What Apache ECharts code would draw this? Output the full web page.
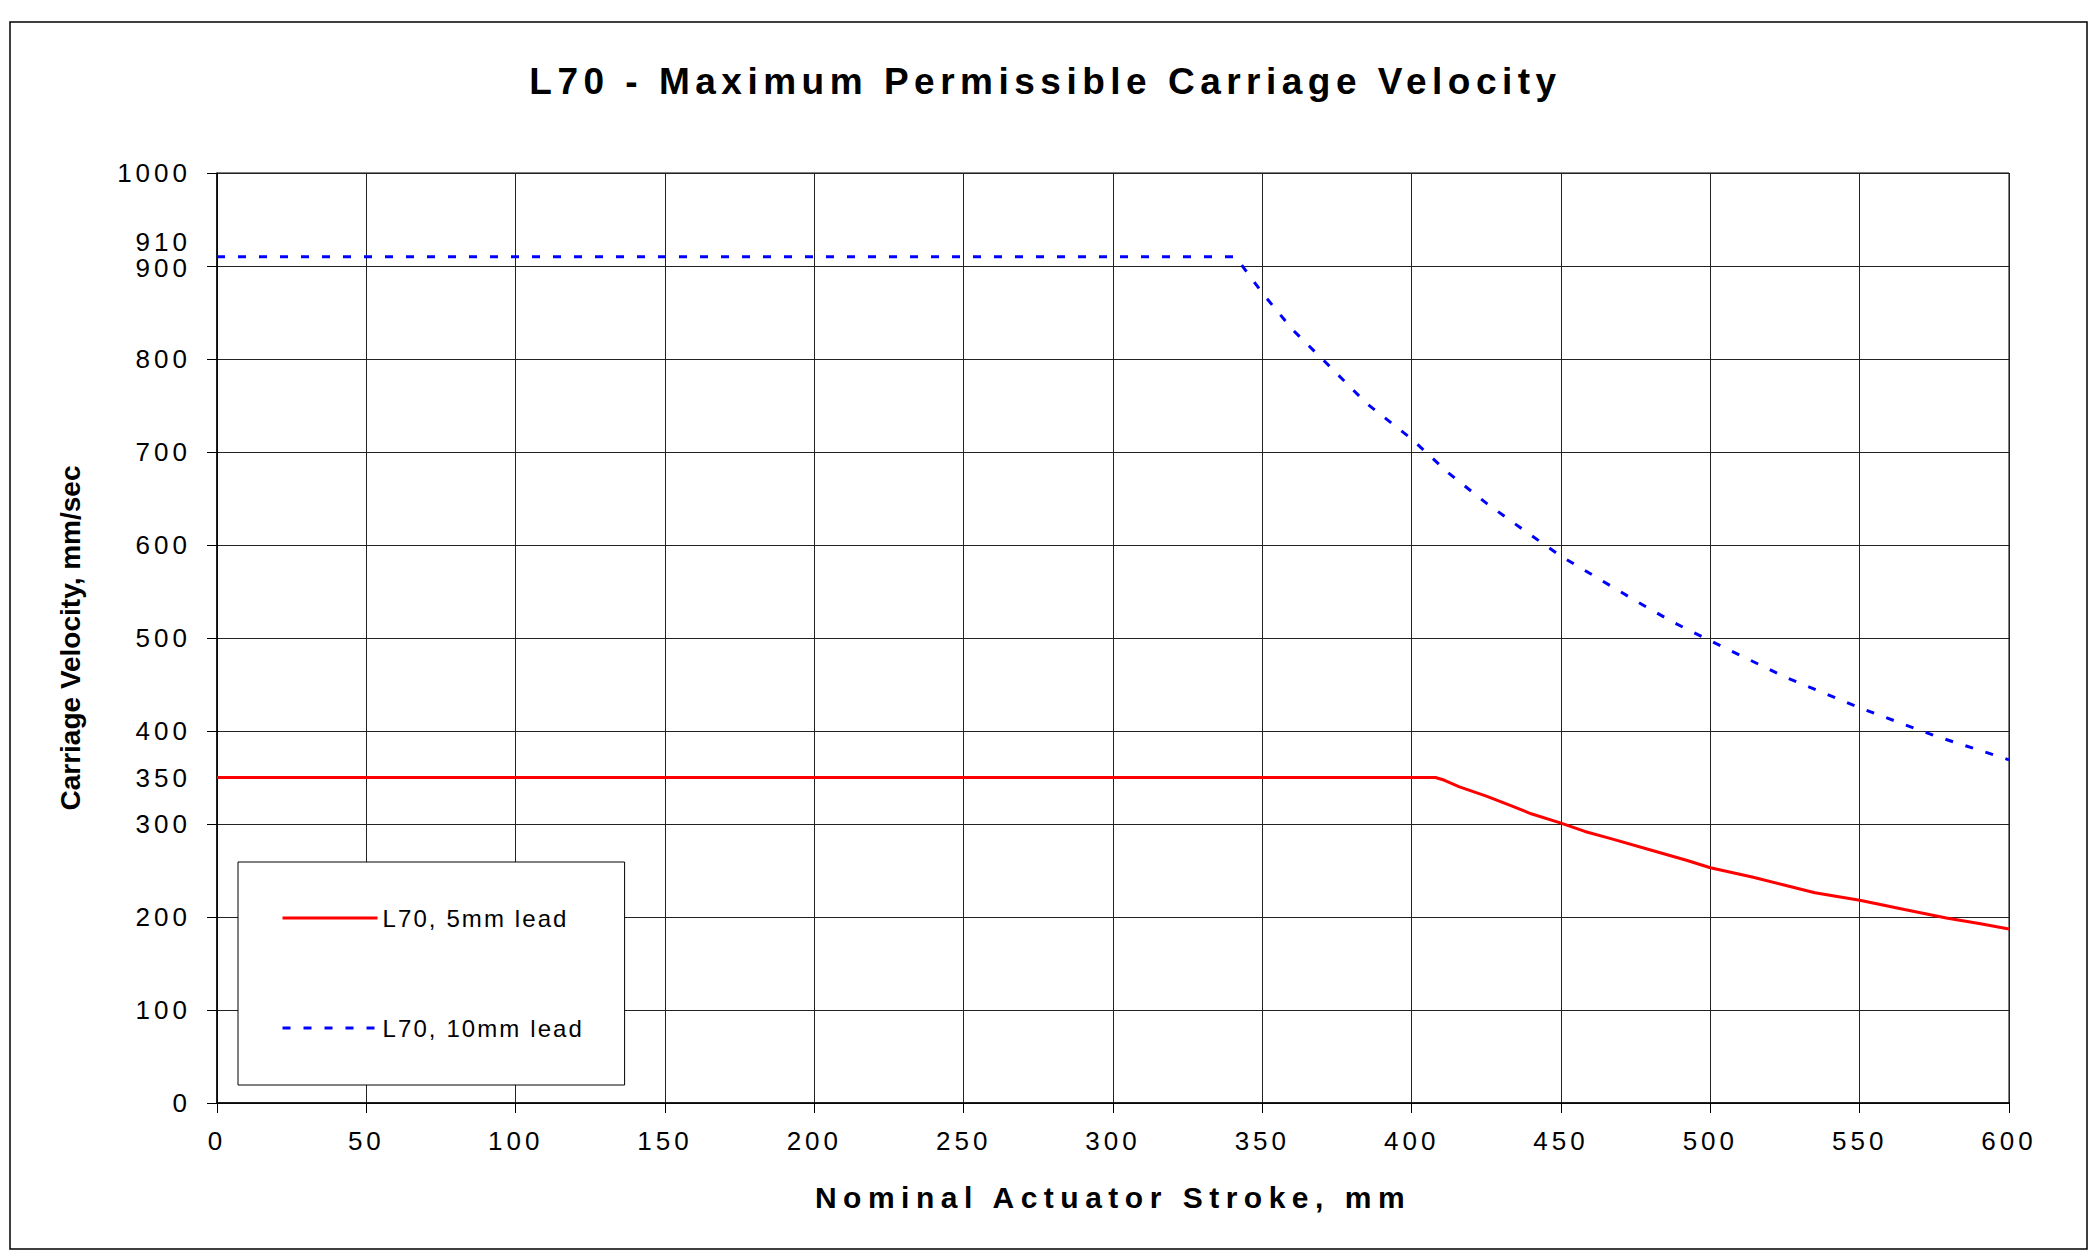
<!DOCTYPE html>
<html>
<head>
<meta charset="utf-8">
<title>L70 - Maximum Permissible Carriage Velocity</title>
<script src="https://cdn.jsdelivr.net/npm/echarts@6/dist/echarts.min.js"></script>
<style>
  html, body { margin: 0; padding: 0; background: #fff; }
  #chart { width: 2091px; height: 1256px; }
  /* letter spacing of the original, picked by font size */
  #chart text[style*="37px"] { letter-spacing: 5.5px; }
  #chart text[style*="30px"] { letter-spacing: 6.5px; }
  #chart text[style*="26px"] { letter-spacing: 4px; }
  #chart text[style*="24px"] { letter-spacing: 2.1px; }
</style>
</head>
<body>
<div id="chart"></div>
<script>
// stroke (mm) and velocity (mm/sec)
const lead5Stroke = [0, 408, 411, 416, 425, 433, 440, 450, 458, 467, 480, 492, 500, 514, 524, 535, 550, 565, 579, 590, 600];
const lead5Speed  = [350, 350, 347, 340, 330, 320, 311, 301, 292, 284, 272, 261, 253, 243, 235, 226, 218, 208, 199, 193, 187];

const lead10Stroke = [0, 341, 350, 360, 371, 385, 400, 412.5, 425, 437.5, 450, 462.5, 475, 487.5, 500, 525, 550, 575, 600];
const lead10Speed  = [910, 910, 871, 832, 797, 752, 714, 677, 645, 616, 588, 564, 540, 517, 497, 458, 425, 395, 369];

const seriesNames = ['L70, 5mm lead', 'L70, 10mm lead'];

const xTicks = [0, 50, 100, 150, 200, 250, 300, 350, 400, 450, 500, 550, 600];
const yTicks = [0, 100, 200, 300, 400, 500, 600, 700, 800, 900, 1000];
const yExtraLabels = [350, 910];

const FONT = '"Liberation Sans", Arial, sans-serif';

const zip = (xs, ys) => xs.map((x, i) => [x, ys[i]]);

const chart = echarts.init(document.getElementById('chart'), null, { renderer: 'svg' });

const option = {
	backgroundColor: '#fff',
	animation: false,
	title: {
		text: 'L70 - Maximum Permissible Carriage Velocity',
		left: 'center',
		top: 63,
		padding: 0,
		textStyle: { fontFamily: FONT, fontSize: 37, fontWeight: 'bold', color: '#000' },
	},
	graphic: [
		{
			type: 'rect',
			shape: { x: 10, y: 22, width: 2077, height: 1227 },
			style: { fill: 'none', stroke: '#000', lineWidth: 1.5 },
			silent: true,
		},
	],
	legend: {
		data: seriesNames,
		orient: 'vertical',
		left: 238,
		top: 862,
		itemWidth: 95,
		itemHeight: 24,
		itemGap: 86,
		padding: [44, 70, 45, 43],
		backgroundColor: '#fff',
		borderColor: '#000',
		borderWidth: 1,
		itemStyle: { color: 'rgba(0,0,0,0)', opacity: 0, borderWidth: 0 },
		lineStyle: { width: 3 },
		textStyle: { fontFamily: FONT, fontSize: 24, color: '#000' },
	},
	grid: {
		left: 217,
		right: 82,
		top: 173,
		bottom: 153,
		show: true,
		borderColor: '#000',
		borderWidth: 1,
	},
	xAxis: {
		type: 'value',
		min: xTicks[0],
		max: xTicks[xTicks.length - 1],
		interval: xTicks[1] - xTicks[0],
		name: 'Nominal Actuator Stroke, mm',
		nameLocation: 'middle',
		nameGap: 79,
		nameTextStyle: { fontFamily: FONT, fontSize: 30, fontWeight: 'bold', color: '#000' },
		axisLine: { lineStyle: { color: '#000', width: 1.5 } },
		axisTick: { length: 10, lineStyle: { color: '#000' } },
		axisLabel: { margin: 25, fontFamily: FONT, fontSize: 26, color: '#000', formatter: (v) => String(v) },
		splitLine: { show: true, lineStyle: { color: '#222', width: 1 } },
	},
	yAxis: [
		{
			type: 'value',
			min: yTicks[0],
			max: yTicks[yTicks.length - 1],
			interval: yTicks[1] - yTicks[0],
			name: 'Carriage Velocity, mm/sec',
			nameLocation: 'middle',
			nameGap: 133,
			nameTextStyle: { fontFamily: FONT, fontSize: 28, fontWeight: 'bold', color: '#000' },
			axisLine: { show: true, lineStyle: { color: '#000', width: 1.5 } },
			axisTick: { show: true, length: 10, lineStyle: { color: '#000' } },
			axisLabel: {
				margin: 26,
				fontFamily: FONT,
				fontSize: 26,
				color: '#000',
				// 900 sits a little low, as in the original, to clear 910
				formatter: (v) => (v === 900 ? '{dn|' + v + '}' : String(v)),
				rich: {
					dn: { fontFamily: FONT, fontSize: 26, color: '#000', padding: [4, 0, 0, 0] },
				},
			},
			splitLine: { show: true, lineStyle: { color: '#222', width: 1 } },
		},
		{
			// extra labels only (350, 910), no ticks or lines
			type: 'value',
			position: 'left',
			offset: 0,
			min: yTicks[0],
			max: yTicks[yTicks.length - 1],
			interval: 10,
			axisLine: { show: false },
			axisTick: { show: false },
			splitLine: { show: false },
			axisLabel: {
				margin: 26,
				fontFamily: FONT,
				fontSize: 26,
				color: '#000',
				formatter: (v) => {
					if (!yExtraLabels.includes(v)) return '';
					return v > 900 ? '{up|' + v + '}' : String(v);
				},
				rich: {
					up: { fontFamily: FONT, fontSize: 26, color: '#000', padding: [0, 0, 30, 0] },
				},
			},
		},
	],
	series: [
		{
			name: seriesNames[0],
			type: 'line',
			data: zip(lead5Stroke, lead5Speed),
			symbol: 'none',
			itemStyle: { color: '#ff0000' },
			lineStyle: { color: '#ff0000', width: 3 },
			z: 3,
		},
		{
			name: seriesNames[1],
			type: 'line',
			data: zip(lead10Stroke, lead10Speed),
			symbol: 'none',
			itemStyle: { color: '#0000ff' },
			lineStyle: { color: '#0000ff', width: 3, type: [8, 13] },
			z: 3,
		},
	],
};

option && chart.setOption(option);
</script>
</body>
</html>
